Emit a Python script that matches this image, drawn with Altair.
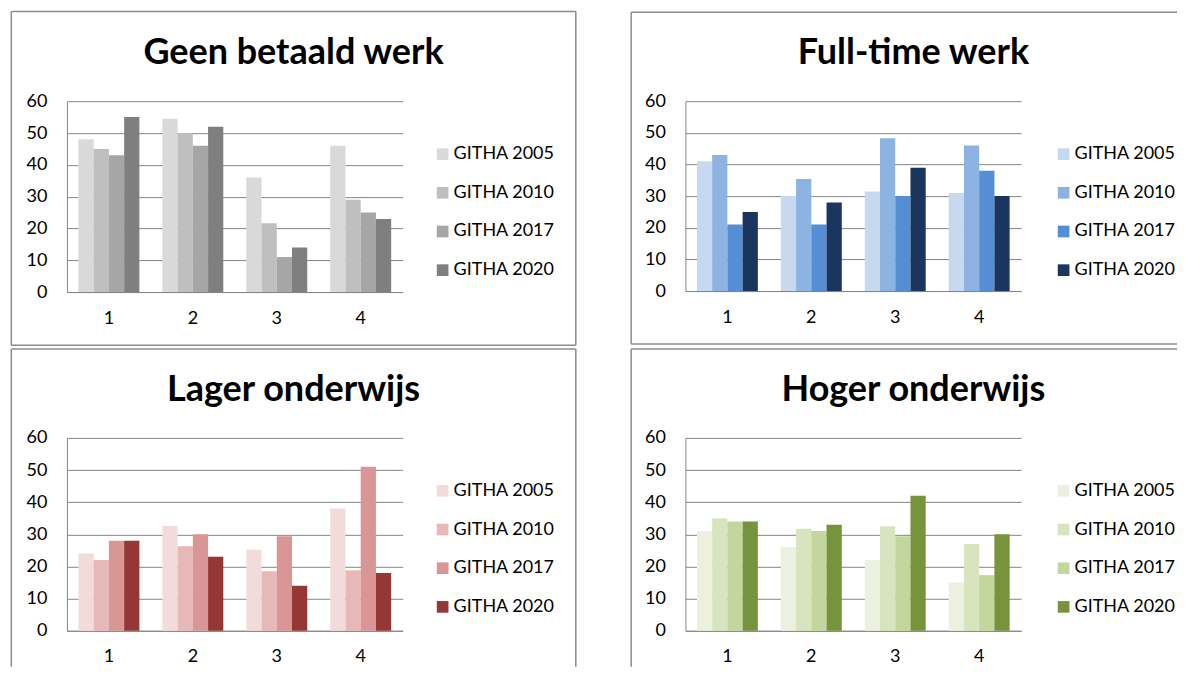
import altair as alt
import pandas as pd

categories = ["1", "2", "3", "4"]
series = ["GITHA 2005", "GITHA 2010", "GITHA 2017", "GITHA 2020"]

titles = ["Geen betaald werk", "Full-time werk", "Lager onderwijs", "Hoger onderwijs"]

# values[series][category]
geen_betaald = [
    [48, 54.5, 36, 46],
    [45, 50, 21.6, 29],
    [43, 46, 11, 25],
    [55, 52, 14, 23],
]
fulltime = [
    [41, 30, 31.5, 31],
    [43, 35.4, 48.3, 46],
    [21, 21, 30, 38],
    [25, 28, 39, 30],
]
lager = [
    [24, 32.6, 25.2, 38],
    [22, 26.3, 18.5, 18.8],
    [28, 30, 29.4, 51],
    [28, 23, 14, 18],
]
hoger = [
    [31, 26, 22, 15],
    [35, 31.7, 32.5, 27],
    [34, 31, 29.4, 17.3],
    [34, 33, 42, 30],
]

colors_gray = ["#D9D9D9", "#BFBFBF", "#A6A6A6", "#7F7F7F"]
colors_blue = ["#C6D9F1", "#8DB3E2", "#558ED5", "#1B365E"]
colors_red = ["#F2DCDB", "#E6B9B8", "#D99694", "#953735"]
colors_green = ["#EBF1DE", "#D7E4BD", "#C3D69B", "#77933C"]

FONT = "Lato"
LINE = "#868686"
BORDER = "#8C8C8C"


def make_df(vals):
    rows = []
    for si, s in enumerate(series):
        for ci, c in enumerate(categories):
            rows.append({"cat": c, "series": s, "value": vals[si][ci], "order": si})
    return pd.DataFrame(rows)


one = pd.DataFrame({"k": [0]})


def hline(x0, x1, y):
    return alt.Chart(one).mark_rule(color=BORDER, strokeWidth=1.5).encode(
        x=alt.value(x0), x2=alt.value(x1), y=alt.value(y))


def vline(x, y0, y1):
    return alt.Chart(one).mark_rule(color=BORDER, strokeWidth=1.5).encode(
        x=alt.value(x), y=alt.value(y0), y2=alt.value(y1))


def panel(vals, title, colors, height, box, sides, legend_x, title_x):
    x0, x1, y0, y1 = box
    df = make_df(vals)
    bars = alt.Chart(df).mark_bar().encode(
        x=alt.X("cat:N", sort=categories,
                scale=alt.Scale(paddingInner=0.274, paddingOuter=0.137),
                axis=alt.Axis(title=None, labelAngle=0, ticks=False, tickSize=0,
                              labelPadding=17, domainColor=LINE, grid=False)),
        xOffset=alt.XOffset("series:N", sort=series,
                            scale=alt.Scale(paddingInner=0, paddingOuter=0)),
        y=alt.Y("value:Q", scale=alt.Scale(domain=[0, 60], nice=False),
                axis=alt.Axis(title=None, values=[0, 10, 20, 30, 40, 50, 60],
                              ticks=False, tickSize=0, labelPadding=20,
                              grid=True, gridColor=LINE, domainColor=LINE)),
        color=alt.Color("series:N", sort=series,
                        scale=alt.Scale(domain=series, range=colors),
                        legend=alt.Legend(title=None, orient="none",
                                          legendX=legend_x, legendY=44,
                                          symbolType="square", symbolSize=136,
                                          symbolStrokeWidth=0, labelOffset=2,
                                          rowPadding=20.7, padding=0,
                                          labelFontSize=18, labelFont=FONT,
                                          labelColor="#000000")),
    )
    txt = alt.Chart(one).mark_text(
        text=title, font=FONT, fontSize=36, fontWeight="bold", color="#000000",
        align="center", baseline="alphabetic").encode(
        x=alt.value(title_x), y=alt.value(-37))
    layers = [bars, txt]
    if "top" in sides:
        layers.append(hline(x0, x1, y0))
    if "bottom" in sides:
        layers.append(hline(x0, x1, y1))
    if "left" in sides:
        layers.append(vline(x0, y0, y1))
    if "right" in sides:
        layers.append(vline(x1, y0, y1))
    return alt.layer(*layers).properties(width=336, height=height)


p1 = panel(geen_betaald, titles[0], colors_gray, 191,
           (-55.7, 509.3, -89.7, 244.3), ["top", "bottom", "left", "right"], 367, 226.8)
p2 = panel(fulltime, titles[1], colors_blue, 190,
           (-54.3, 492, -89, 243), ["top", "bottom", "left"], 369.5, 228.2)
p3 = panel(lager, titles[2], colors_red, 193,
           (-55.7, 509.3, -89, 229), ["top", "left", "right"], 367, 226.8)
p4 = panel(hoger, titles[3], colors_green, 193,
           (-54.3, 492, -89, 229), ["top", "left"], 369.5, 228.2)

row1 = alt.hconcat(p1, p2, spacing=52).resolve_scale(color="independent")
row2 = alt.hconcat(p3, p4, spacing=52).resolve_scale(color="independent")

chart = alt.vconcat(row1, row2, spacing=0).resolve_scale(
    color="independent"
).properties(
    padding={"left": 2, "top": 2, "right": 0, "bottom": 0},
    background="#FFFFFF",
).configure_view(
    stroke="transparent"
).configure_axis(
    labelFont=FONT, labelFontSize=18, labelColor="#000000"
)

chart.save("out.html", embed_options={"renderer": "svg", "actions": False})
